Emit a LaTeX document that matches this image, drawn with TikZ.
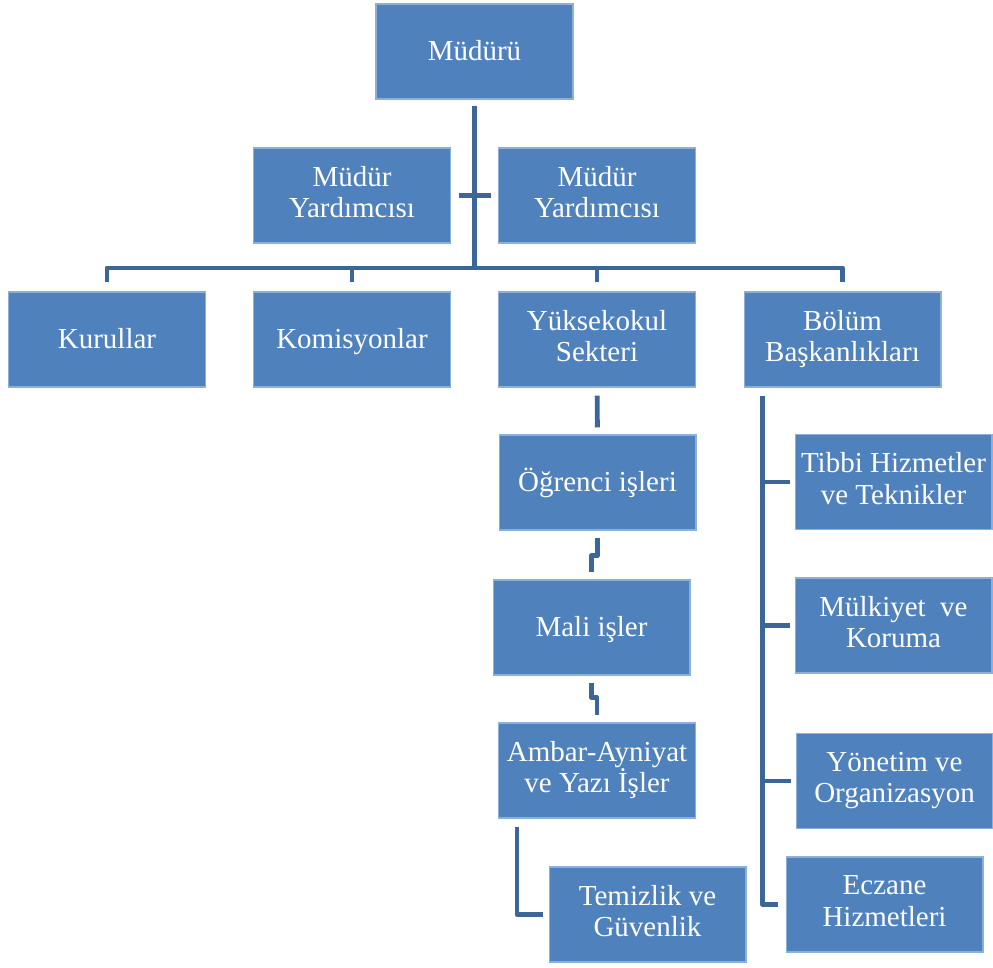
\documentclass[tikz,border=0pt]{standalone}
\usepackage{fontspec}
\setmainfont{Liberation Serif}
\definecolor{boxblue}{HTML}{4F81BD}
\definecolor{boxedge}{HTML}{8DB0DA}
\definecolor{linkblue}{HTML}{3C6697}
\newcommand\boxstrut{\rule[-4pt]{0pt}{18pt}}
\newcommand\tailstrut{\rule[-0.6pt]{0pt}{1pt}}
\tikzset{
	unit/.style={rectangle, draw=boxedge, line width=0.6pt, fill=boxblue, text=white,
		minimum width=3.94cm, minimum height=1.9cm, inner sep=0pt, align=center,
		font=\fontsize{16.5}{18}\selectfont,
		execute at begin node=\boxstrut, execute at end node=\tailstrut},
	link/.style={draw=linkblue, line width=2.8pt, line join=round}
}
\begin{document}
\begin{tikzpicture}[x=0.02cm, y=-0.02cm]
	\useasboundingbox (0,0) rectangle (993,967);
	\node (mudur) at (474.5, 51.5)	[unit]	{Müdürü};
	\node (yardL) at (352, 195.5)	[unit]	{Müdür\\Yardımcısı};
	\node (yardR) at (597, 195.5)	[unit]	{Müdür\\Yardımcısı};
	\node (kurul) at (107, 339.5)	[unit]	{Kurullar};
	\node (komis) at (352, 339.5)	[unit]	{Komisyonlar};
	\node (yuksek) at (597, 339.5)	[unit]	{Yüksekokul\\Sekteri};
	\node (bolum) at (842.5, 339.5)	[unit]	{Bölüm\\Başkanlıkları};
	\node (ogrenci) at (597.5, 482.5)	[unit]	{Öğrenci işleri};
	\node (mali) at (591.5, 627.5)	[unit]	{Mali işler};
	\node (ambar) at (597, 770.5)	[unit]	{Ambar-Ayniyat\\ve Yazı İşler};
	\node (temiz) at (647.5, 914.5)	[unit]	{Temizlik ve\\Güvenlik};
	\node (tibbi) at (893.5, 482)	[unit]	{Tibbi Hizmetler\\ve Teknikler};
	\node (mulk) at (893.5, 625.5)	[unit]	{Mülkiyet~ ve\\Koruma};
	\node (yonetim) at (894.5, 781)	[unit]	{Yönetim ve\\Organizasyon};
	\node (eczane) at (884.5, 904.5)	[unit]	{Eczane\\Hizmetleri};
	\coordinate (bar) at (474.5, 268);
	\coordinate (trunk) at ([xshift=-1.6cm]bolum.south);
	% top of the chart
	\draw[link, shorten <=0.12cm] (mudur) -- (mudur |- bar);
	\draw[link, shorten <=0.16cm, shorten >=0.14cm] (yardL) -- (yardR);
	\draw[link, shorten <=0.18cm, shorten >=0.18cm] (kurul.north) -- (kurul |- bar) -- (bolum |- bar) -- (bolum.north);
	\draw[link, shorten <=0.18cm] (komis.north) -- (komis |- bar);
	\draw[link, shorten <=0.18cm] (yuksek.north) -- (yuksek |- bar);
	% Yuksekokul Sekteri branch
	\draw[link, shorten <=0.16cm, shorten >=0.14cm] (yuksek) -- (ogrenci);
	\draw[link, shorten <=0.14cm, shorten >=0.14cm] (ogrenci.south) -- ++(0,25) -| (mali.north);
	\draw[link, shorten <=0.14cm, shorten >=0.14cm] (mali.south) -- ++(0,22) -| (ambar.north);
	\draw[link, shorten <=0.16cm, shorten >=0.12cm] ([xshift=-1.6cm]ambar.south) |- (temiz.west);
	% Bolum Baskanliklari branch
	\draw[link, shorten <=0.16cm, shorten >=0.16cm] (trunk) |- (eczane.west);
	\draw[link, shorten >=0.1cm] (trunk |- tibbi.west) -- (tibbi.west);
	\draw[link, shorten >=0.1cm] (trunk |- mulk.west) -- (mulk.west);
	\draw[link, shorten >=0.1cm] (trunk |- yonetim.west) -- (yonetim.west);
\end{tikzpicture}
\end{document}
